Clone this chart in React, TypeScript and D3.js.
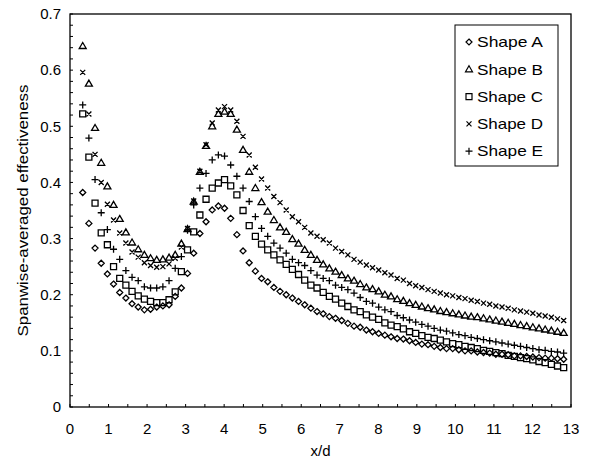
import React from 'react';
import * as d3 from 'd3';

// measurement stations x/d
const xd = [
  0.33, 0.49, 0.65, 0.81, 0.97, 1.13, 1.29, 1.45, 1.61, 1.77, 1.93, 2.09, 2.25, 2.41, 2.57, 2.73,
  2.89, 3.05, 3.21, 3.37, 3.53, 3.69, 3.85, 4.01, 4.17, 4.33, 4.49, 4.65, 4.81, 4.97, 5.13, 5.29,
  5.45, 5.61, 5.77, 5.93, 6.09, 6.25, 6.41, 6.57, 6.73, 6.89, 7.05, 7.21, 7.37, 7.53, 7.69, 7.85,
  8.01, 8.17, 8.33, 8.49, 8.65, 8.81, 8.97, 9.13, 9.29, 9.45, 9.61, 9.77, 9.93, 10.09, 10.25, 10.41,
  10.57, 10.73, 10.89, 11.05, 11.21, 11.37, 11.53, 11.69, 11.85, 12.01, 12.17, 12.33, 12.49, 12.65, 12.81,
];

const shapeA = [
  0.382, 0.327, 0.283, 0.256, 0.237, 0.219, 0.204, 0.194, 0.184, 0.178, 0.173, 0.174, 0.178, 0.18, 0.182, 0.197,
  0.212, 0.238, 0.274, 0.309, 0.33, 0.351, 0.358, 0.354, 0.336, 0.307, 0.278, 0.257, 0.242, 0.229, 0.223, 0.213,
  0.206, 0.2, 0.194, 0.188, 0.182, 0.176, 0.17, 0.166, 0.161, 0.158, 0.154, 0.149, 0.144, 0.142, 0.137, 0.134,
  0.131, 0.128, 0.125, 0.122, 0.121, 0.118, 0.115, 0.112, 0.111, 0.108, 0.106, 0.104, 0.104, 0.102, 0.1, 0.1,
  0.098, 0.097, 0.096, 0.094, 0.094, 0.093, 0.091, 0.091, 0.09, 0.089, 0.088, 0.087, 0.087, 0.086, 0.085,
];

const shapeB = [
  0.643, 0.576, 0.497, 0.435, 0.393, 0.36, 0.335, 0.311, 0.293, 0.281, 0.271, 0.265, 0.262, 0.263, 0.266, 0.271,
  0.291, 0.317, 0.366, 0.419, 0.465, 0.5, 0.522, 0.526, 0.522, 0.494, 0.458, 0.419, 0.39, 0.365, 0.348, 0.333,
  0.32, 0.312, 0.299, 0.291, 0.28, 0.271, 0.262, 0.254, 0.247, 0.241, 0.235, 0.229, 0.225, 0.219, 0.213, 0.21,
  0.206, 0.2, 0.197, 0.192, 0.189, 0.185, 0.182, 0.179, 0.176, 0.174, 0.171, 0.169, 0.167, 0.165, 0.163, 0.161,
  0.16, 0.158, 0.156, 0.154, 0.152, 0.15, 0.148, 0.146, 0.144, 0.142, 0.14, 0.138, 0.136, 0.134, 0.132,
];

const shapeC = [
  0.522, 0.445, 0.363, 0.31, 0.289, 0.25, 0.229, 0.217, 0.206, 0.198, 0.192, 0.188, 0.186, 0.186, 0.191, 0.205,
  0.241, 0.28, 0.312, 0.342, 0.37, 0.39, 0.399, 0.405, 0.394, 0.378, 0.35, 0.323, 0.304, 0.29, 0.28, 0.271,
  0.262, 0.254, 0.245, 0.236, 0.226, 0.217, 0.212, 0.204, 0.197, 0.192, 0.185, 0.179, 0.173, 0.17, 0.164, 0.16,
  0.156, 0.15, 0.146, 0.143, 0.139, 0.134, 0.131, 0.127, 0.124, 0.122, 0.119, 0.116, 0.113, 0.111, 0.108, 0.106,
  0.104, 0.101, 0.099, 0.097, 0.095, 0.092, 0.09, 0.088, 0.086, 0.084, 0.081, 0.079, 0.076, 0.073, 0.07,
];

const shapeD = [
  0.596, 0.522, 0.45, 0.4, 0.361, 0.333, 0.31, 0.292, 0.276, 0.267, 0.257, 0.252, 0.249, 0.25, 0.255, 0.265,
  0.285, 0.318, 0.367, 0.42, 0.467, 0.506, 0.529, 0.535, 0.529, 0.509, 0.482, 0.449, 0.427, 0.406, 0.39, 0.375,
  0.364, 0.351, 0.339, 0.33, 0.32, 0.31, 0.304, 0.298, 0.292, 0.283, 0.277, 0.271, 0.263, 0.258, 0.253, 0.248,
  0.244, 0.239, 0.235, 0.229, 0.226, 0.22, 0.216, 0.213, 0.209, 0.206, 0.203, 0.2, 0.198, 0.195, 0.193, 0.19,
  0.188, 0.185, 0.183, 0.18, 0.178, 0.176, 0.173, 0.171, 0.169, 0.167, 0.164, 0.162, 0.16, 0.157, 0.154,
];

const shapeE = [
  0.538, 0.479, 0.405, 0.346, 0.316, 0.281, 0.263, 0.243, 0.231, 0.225, 0.214, 0.212, 0.212, 0.214, 0.225, 0.247,
  0.268, 0.315, 0.36, 0.39, 0.416, 0.44, 0.449, 0.447, 0.431, 0.411, 0.39, 0.366, 0.339, 0.318, 0.304, 0.292,
  0.283, 0.274, 0.263, 0.257, 0.252, 0.243, 0.235, 0.229, 0.225, 0.217, 0.213, 0.209, 0.203, 0.195, 0.188, 0.185,
  0.178, 0.173, 0.17, 0.163, 0.159, 0.155, 0.151, 0.147, 0.144, 0.14, 0.137, 0.135, 0.132, 0.129, 0.127, 0.124,
  0.122, 0.12, 0.118, 0.116, 0.114, 0.112, 0.11, 0.108, 0.106, 0.104, 0.102, 0.101, 0.099, 0.098, 0.096,
];

const seriesNames = ['Shape A', 'Shape B', 'Shape C', 'Shape D', 'Shape E'];
const seriesMarkers = ['diamond', 'triangle', 'square', 'times', 'plus'];
const seriesValues = [shapeA, shapeB, shapeC, shapeD, shapeE];

const xTickLabels = ['0', '1', '2', '3', '4', '5', '6', '7', '8', '9', '10', '11', '12', '13'];
const yTickLabels = ['0', '0.1', '0.2', '0.3', '0.4', '0.5', '0.6', '0.7'];

const FONT = '"Liberation Sans", Arial, sans-serif';

// marker outline centred on (cx, cy)
function markerPath(kind: string, cx: number, cy: number) {
  const p = d3.path();
  if (kind === 'diamond') {
    p.moveTo(cx, cy - 3);
    p.lineTo(cx + 3, cy);
    p.lineTo(cx, cy + 3);
    p.lineTo(cx - 3, cy);
    p.closePath();
  } else if (kind === 'triangle') {
    p.moveTo(cx, cy - 3.5);
    p.lineTo(cx + 3.5, cy + 2.5);
    p.lineTo(cx - 3.5, cy + 2.5);
    p.closePath();
  } else if (kind === 'square') {
    p.rect(cx - 3, cy - 3, 6, 6);
  } else if (kind === 'times') {
    p.moveTo(cx - 2.5, cy - 2.5);
    p.lineTo(cx + 2.5, cy + 2.5);
    p.moveTo(cx + 2.5, cy - 2.5);
    p.lineTo(cx - 2.5, cy + 2.5);
  } else {
    p.moveTo(cx - 3.5, cy);
    p.lineTo(cx + 3.5, cy);
    p.moveTo(cx, cy - 3.5);
    p.lineTo(cx, cy + 3.5);
  }
  return p.toString();
}

export default function App() {
  const width = 596;
  const height = 461;
  const x = d3.scaleLinear().domain([0, 13]).range([70, 571]);
  const y = d3.scaleLinear().domain([0, 0.7]).range([407, 14]);

  const xMinor = d3.range(0, 13.001, 0.5);
  const yMinor = d3.range(0, 0.7001, 0.02);

  return (
    <svg
      width={width}
      height={height}
      style={{ position: 'fixed', left: 0, top: 0, background: '#fff' }}
      fontFamily={FONT}
    >
      <rect x={0} y={0} width={width} height={height} fill="#fff" />

      {/* ticks, pointing inward */}
      <g stroke="#000" strokeWidth={1}>
        {xMinor.map((t) => (
          <line key={'xt' + t} x1={x(t)} x2={x(t)} y1={y(0)} y2={y(0) - 3} />
        ))}
        {yMinor.map((t) => (
          <line key={'yt' + t} x1={x(0)} x2={x(0) + 3} y1={y(t)} y2={y(t)} />
        ))}
      </g>

      {/* frame */}
      <rect
        x={x(0)}
        y={y(0.7)}
        width={x(13) - x(0)}
        height={y(0) - y(0.7)}
        fill="none"
        stroke="#000"
        strokeWidth={1.3}
      />

      {/* tick labels */}
      <g fontSize={15} fill="#000">
        {xTickLabels.map((l) => (
          <text key={'xl' + l} x={x(+l)} y={434} textAnchor="middle">
            {l}
          </text>
        ))}
        {yTickLabels.map((l) => (
          <text key={'yl' + l} x={61} y={y(+l)} dy="0.35em" textAnchor="end">
            {l}
          </text>
        ))}
      </g>

      {/* axis titles */}
      <text x={(x(0) + x(13)) / 2} y={456} fontSize={15} textAnchor="middle">
        x/d
      </text>
      <text
        transform={`translate(28,${(y(0) + y(0.7)) / 2}) rotate(-90)`}
        fontSize={15}
        textAnchor="middle"
        textLength={252}
        lengthAdjust="spacingAndGlyphs"
      >
        Spanwise-averaged effectiveness
      </text>

      {/* data */}
      {seriesValues.map((vals, si) => (
        <path
          key={'s' + si}
          d={vals.map((v, i) => markerPath(seriesMarkers[si], x(xd[i]), y(v))).join('')}
          fill="none"
          stroke="#000"
          strokeWidth={1.3}
        />
      ))}

      {/* legend */}
      <g>
        <rect x={455} y={25} width={103} height={141} fill="#fff" stroke="#000" strokeWidth={1} />
        {seriesNames.map((n, i) => {
          const ly = 42 + i * 27.3;
          return (
            <g key={n}>
              <path d={markerPath(seriesMarkers[i], 469, ly)} fill="none" stroke="#000" strokeWidth={1.2} />
              <text
                x={477}
                y={ly}
                dy="0.35em"
                fontSize={15}
                textLength={66}
                lengthAdjust="spacingAndGlyphs"
              >
                {n}
              </text>
            </g>
          );
        })}
      </g>
    </svg>
  );
}
